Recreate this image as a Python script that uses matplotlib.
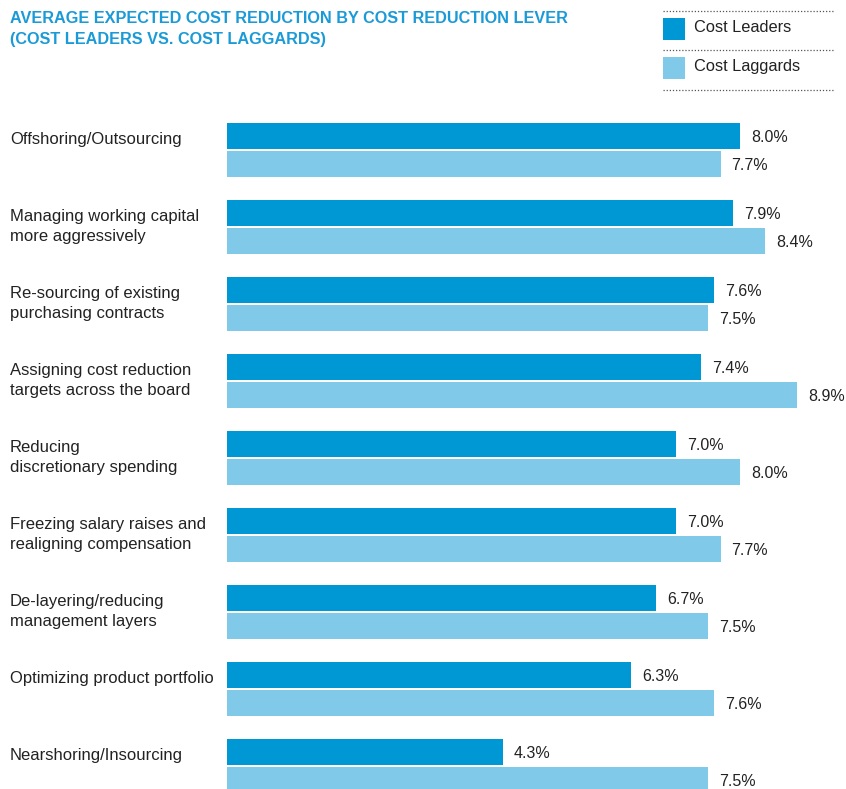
import numpy as np
import matplotlib
matplotlib.use("Agg")
import matplotlib.pyplot as plt
from matplotlib.patches import Rectangle
from matplotlib.lines import Line2D

# Cost reduction levers and expected reduction (%) per group
levers = [
    "Offshoring/Outsourcing",
    "Managing working capital\nmore aggressively",
    "Re-sourcing of existing\npurchasing contracts",
    "Assigning cost reduction\ntargets across the board",
    "Reducing\ndiscretionary spending",
    "Freezing salary raises and\nrealigning compensation",
    "De-layering/reducing\nmanagement layers",
    "Optimizing product portfolio",
    "Nearshoring/Insourcing",
]
leaders = [8.0, 7.9, 7.6, 7.4, 7.0, 7.0, 6.7, 6.3, 4.3]
laggards = [7.7, 8.4, 7.5, 8.9, 8.0, 7.7, 7.5, 7.6, 7.5]

LEADER_COLOR = "#0097d5"
LAGGARD_COLOR = "#80c9e9"
TITLE_COLOR = "#1a9ad6"
TEXT_COLOR = "#222222"

plt.rcParams["font.family"] = ["Liberation Sans", "DejaVu Sans"]

W, H = 846, 789
fig = plt.figure(figsize=(W / 100, H / 100), dpi=100)


def fx(px):
    return px / W


def fy(py):
    return 1 - py / H


# axes spans from the bar baseline to the right edge, full height
x0 = 227
px_per_pct = 64.1
ax = fig.add_axes([fx(x0), 0, 1 - fx(x0), 1])
ax.set_xlim(0, (W - x0) / px_per_pct)

step = 77.0          # pixels between groups
first_center = 150.0  # pixel y of first group centre
ax.set_ylim((H - first_center) / step, -first_center / step)
ax.axis("off")

y = np.arange(len(levers))
bh = 26 / step
off = 14 / step
ax.barh(y - off, leaders, height=bh, color=LEADER_COLOR, align="center")
ax.barh(y + off, laggards, height=bh, color=LAGGARD_COLOR, align="center")

pad = 11 / px_per_pct
for i in range(len(levers)):
    ax.text(leaders[i] + pad, y[i] - off, f"{leaders[i]:.1f}%", va="center_baseline",
            ha="left", fontsize=11.5, color=TEXT_COLOR)
    ax.text(laggards[i] + pad, y[i] + off, f"{laggards[i]:.1f}%", va="center_baseline",
            ha="left", fontsize=11.5, color=TEXT_COLOR)
    # category labels, first line in the upper part of the group
    fig.text(fx(10), fy(first_center + step * i - 18), levers[i], ha="left",
             va="top", fontsize=12, color=TEXT_COLOR, linespacing=1.45)

# title
fig.text(fx(10), fy(11), "AVERAGE EXPECTED COST REDUCTION BY COST REDUCTION LEVER\n(COST LEADERS VS. COST LAGGARDS)",
         ha="left", va="top", fontsize=11.7, fontweight="bold", color=TITLE_COLOR,
         linespacing=1.5)

# legend block with dotted separators
for ly in (11, 50, 90):
    fig.add_artist(Line2D([fx(663), fx(833)], [fy(ly), fy(ly)], transform=fig.transFigure,
                          color="#555555", lw=0.9, linestyle=(0, (1, 1.5))))
for top, color, label in ((18, LEADER_COLOR, "Cost Leaders"), (57, LAGGARD_COLOR, "Cost Laggards")):
    fig.add_artist(Rectangle((fx(663), fy(top + 22)), fx(22), 22 / H, transform=fig.transFigure,
                             color=color, lw=0))
    fig.text(fx(694), fy(top + 10), label, ha="left", va="center", fontsize=11.8, color=TEXT_COLOR)

fig.savefig("out.png", dpi=100)
